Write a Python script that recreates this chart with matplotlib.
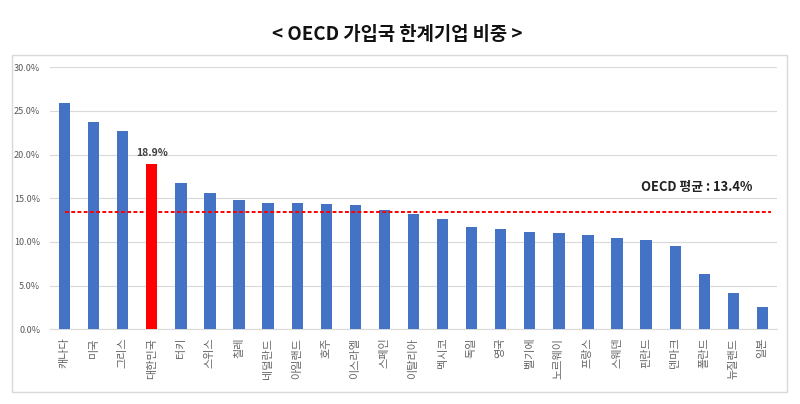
import matplotlib
matplotlib.use("Agg")
import matplotlib.pyplot as plt
from matplotlib.patches import Rectangle
import numpy as np

plt.rcParams['font.family'] = ['Noto Sans CJK KR', 'DejaVu Sans']

countries = ['캐나다', '미국', '그리스', '대한민국', '터키', '스위스', '칠레', '네덜란드',
             '아일랜드', '호주', '이스라엘', '스페인', '이탈리아', '멕시코', '독일', '영국',
             '벨기에', '노르웨이', '프랑스', '스웨덴', '핀란드', '덴마크', '폴란드', '뉴질랜드', '일본']
values = [25.9, 23.7, 22.7, 18.9, 16.7, 15.6, 14.8, 14.5, 14.5, 14.3, 14.2, 13.7,
          13.2, 12.6, 11.7, 11.5, 11.1, 11.0, 10.8, 10.5, 10.2, 9.5, 6.3, 4.2, 2.5]
highlight = '대한민국'
oecd_avg = 13.4
yticks = [0, 5, 10, 15, 20, 25, 30]
title = '< OECD 가입국 한계기업 비중 >'

fig = plt.figure(figsize=(8, 4.04), dpi=100)
W, H = 800, 404

# chart frame
fig.patches.append(Rectangle((12 / W, 1 - 392 / H), (787 - 12) / W, (392 - 55) / H,
                             transform=fig.transFigure, fill=False,
                             edgecolor='#d9d9d9', linewidth=1.0))

ax = fig.add_axes([50 / W, 1 - 329.3 / H, (777 - 50) / W, (329.3 - 67.3) / H])
x = np.arange(len(countries))
colors = ['#FF0000' if c == highlight else '#4472C4' for c in countries]
ax.bar(x, values, width=0.39, color=colors, zorder=3)

ax.set_xlim(-0.5, len(countries) - 0.5)
ax.set_ylim(0, 30)
ax.set_yticks(yticks)
ax.set_yticklabels([f'{v:.1f}%' for v in yticks], fontsize=6.5, color='#595959')
ax.set_xticks(x)
ax.set_xticklabels(countries, rotation=90, fontsize=8, color='#666666')
ax.tick_params(length=0, pad=6)
ax.tick_params(axis='y', pad=7)
ax.grid(axis='y', color='#d9d9d9', linewidth=0.8, zorder=0)
for s in ['top', 'right', 'left']:
    ax.spines[s].set_visible(False)
ax.spines['bottom'].set_color('#d9d9d9')

# OECD average line
ax.plot([0, len(countries) - 0.7], [oecd_avg, oecd_avg], color='#FF0000',
        linewidth=1.4, linestyle=(0, (2, 1.2)), zorder=4)
ax.text(len(countries) - 1.35, oecd_avg + 2.9, f'OECD 평균 : {oecd_avg}%',
        ha='right', va='center', fontsize=9.3, fontweight='bold', color='#222222')

# highlight label
hi = countries.index(highlight)
ax.text(hi, values[hi] + 1.3, f'{values[hi]}%', ha='center', va='center',
        fontsize=7.5, fontweight='bold', color='#404040')

fig.text(0.497, 1 - 35 / H, title, ha='center', va='center', fontsize=13.5,
         fontweight='bold', color='#111111')

fig.savefig('out.png', dpi=100)
